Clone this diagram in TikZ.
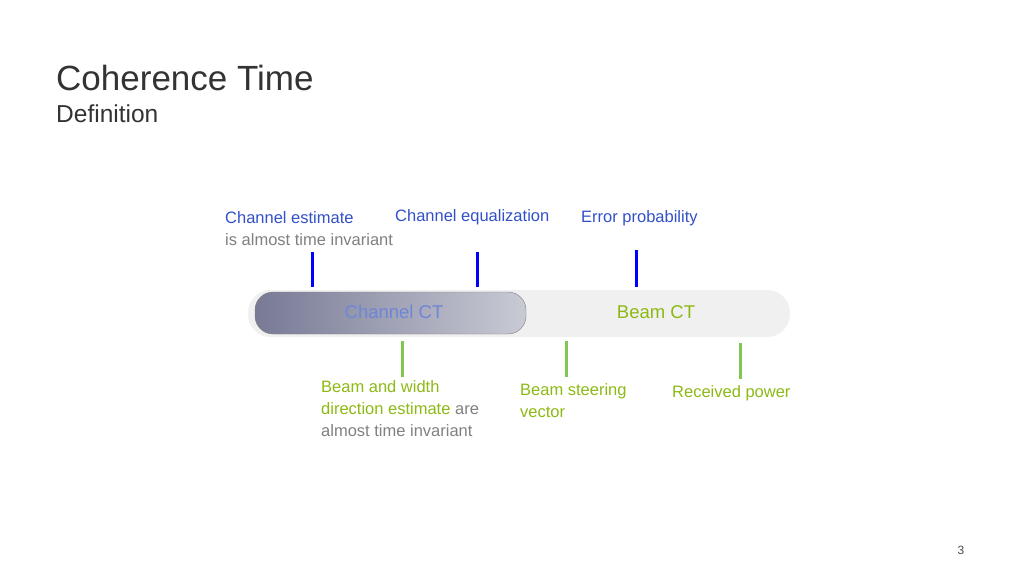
\documentclass[tikz,border=0pt]{standalone}
\usepackage{fontspec}
\setmainfont{Liberation Sans}
\begin{document}
\begin{tikzpicture}[x=1pt,y=-1pt,
 lbl/.style={anchor=north west,inner sep=0,font=\fontsize{16.5}{22}\selectfont,align=left},
 btick/.style={line width=3pt}]
\definecolor{bl}{RGB}{50,80,200}
\definecolor{gr}{RGB}{140,185,20}
\definecolor{gt}{RGB}{130,200,80}
\definecolor{dk}{RGB}{120,122,150}
\definecolor{lt}{RGB}{200,202,212}
\useasboundingbox (0,0) rectangle (1024,576);
\node[anchor=west,inner sep=0,font=\fontsize{35}{40}\selectfont,text=black!80] (t) at (56,78) {Coherence Time};
\node[anchor=west,inner sep=0,font=\fontsize{24.5}{28}\selectfont,text=black!80] (d) at (56,114) {Definition};
\node[draw=black!4,fill=black!6,rounded corners=23,minimum width=542,minimum height=47,inner sep=0] (bar) at (519,313.5) {};
\node[draw=gray,left color=dk,right color=lt,rounded corners=18,minimum width=271,minimum height=42,inner sep=0] (ch) at (390.5,313) {};
\node[text=bl!70!white,font=\fontsize{18.5}{20}\selectfont] (cht) at (394,312) {Channel CT};
\node[text=gr,font=\fontsize{18.5}{20}\selectfont] (bct) at (656,312) {Beam CT};
\coordinate (b1) at (312,252); \coordinate (b1e) at (312,287);
\coordinate (b2) at (477,252); \coordinate (b2e) at (477,287);
\coordinate (b3) at (636,250); \coordinate (b3e) at (636,287);
\draw[btick,draw=blue] (b1)--(b1e) (b2)--(b2e) (b3)--(b3e);
\coordinate (g1) at (402,341); \coordinate (g1e) at (402,377);
\coordinate (g2) at (566,341); \coordinate (g2e) at (566,377);
\coordinate (g3) at (740,343); \coordinate (g3e) at (740,379);
\draw[btick,draw=gt] (g1)--(g1e) (g2)--(g2e) (g3)--(g3e);
\node[lbl] (l1) at (225,211) {\textcolor{bl}{Channel estimate}\\\textcolor{gray}{is almost time invariant}};
\node[lbl,text=bl] (l2) at (395,209) {Channel equalization};
\node[lbl,text=bl] (l3) at (581,210) {Error probability};
\node[lbl] (l4) at (321,380) {\textcolor{gr}{Beam and width}\\\textcolor{gr}{direction estimate} \textcolor{gray}{are}\\\textcolor{gray}{almost time invariant}};
\node[lbl,text=gr] (l5) at (520,383) {Beam steering\\vector};
\node[lbl,text=gr] (l6) at (672,385) {Received power};
\node[font=\fontsize{12}{13}\selectfont,text=black!70] (n) at (961,550) {3};
\end{tikzpicture}
\end{document}
